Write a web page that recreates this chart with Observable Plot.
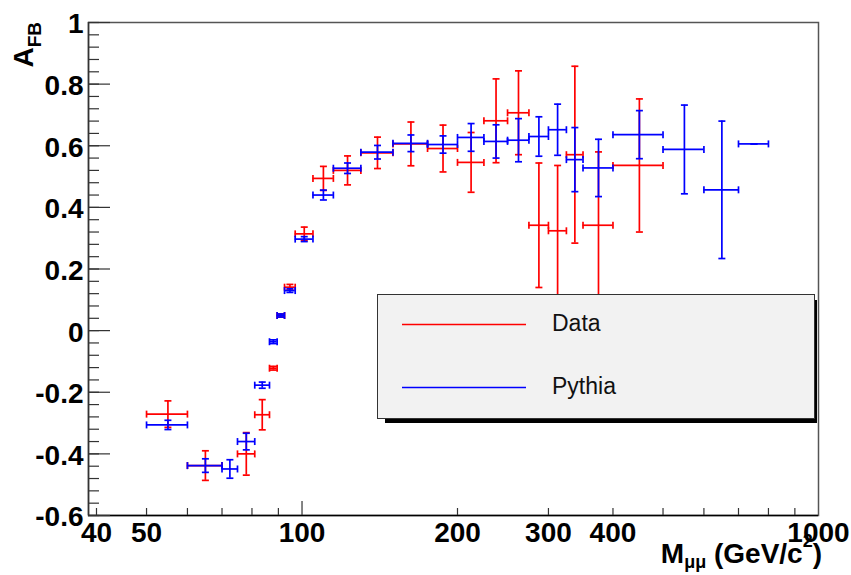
<!DOCTYPE html>
<html><head><meta charset="utf-8">
<script src="https://cdn.jsdelivr.net/npm/d3@7"></script>
<script src="https://cdn.jsdelivr.net/npm/@observablehq/plot@0.6"></script>
<style>body{margin:0;background:#fff}#chart{width:851px;height:575px}</style>
</head><body><div id="chart"></div>
<script>
// Mass bins (GeV/c^2)
const binLo = [50,60,70,75,81,86.5,89.5,92.5,97,105,115,130,150,175,200,225,250,275,300,325,350,400,500,600,700];
const binHi = [60,70,75,81,86.5,89.5,92.5,97,105,115,130,150,175,200,225,250,275,300,325,350,400,500,600,700,800];
const mass  = [55,65,72.5,78,83.75,88,91,94.75,101,110,122.5,140,162.5,187.5,212.5,237.5,262.5,287.5,312.5,337.5,375,450,550,650,750];
// Data A_FB and errors
const dataAfb = [-0.271,-0.438,null,-0.400,-0.273,-0.122,0.049,0.141,0.314,0.494,0.520,0.577,0.606,0.591,0.546,0.681,0.707,0.342,0.324,0.571,0.342,0.536,null,null,null];
const dataErr = [0.043,0.048,null,0.069,0.049,0.006,0.005,0.009,0.022,0.039,0.047,0.051,0.071,0.076,0.097,0.136,0.136,0.202,0.212,0.287,0.238,0.216,null,null,null];
// Pythia A_FB and errors
const pythiaAfb = [-0.306,-0.438,-0.449,-0.360,-0.177,-0.036,0.049,0.130,0.297,0.440,0.527,0.579,0.608,0.604,0.627,0.614,0.618,0.630,0.652,0.555,0.528,0.636,0.588,0.457,0.606];
const pythiaErr = [0.015,0.022,0.030,0.027,0.010,0.006,0.005,0.006,0.008,0.016,0.017,0.022,0.027,0.028,0.045,0.054,0.070,0.064,0.083,0.104,0.093,0.078,0.144,0.223,0.0];
// Tick labels
const xTicks = [40,50,100,200,300,400,1000];
const xMinorTicks = [40,50,60,70,80,90,200,300,400,500,600,700,800,900];
const xMajorTicks = [100];
const yTicks = [-0.6,-0.4,-0.2,0,0.2,0.4,0.6,0.8,1];
const seriesNames = ["Data","Pythia"];
const seriesColors = ["#ff0000","#0000ff"];

const W = 851, H = 575, mL = 88, mR = 33, mT = 22, mB = 60;
const frameW = W - mL - mR, frameH = H - mT - mB;
const yMinorTicks = d3.range(-60, 101, 4).map(v => v / 100);

const hCap = {draw(ctx, size){const r = Math.sqrt(size/Math.PI); ctx.moveTo(-r,0); ctx.lineTo(r,0);}};
const vCap = {draw(ctx, size){const r = Math.sqrt(size/Math.PI); ctx.moveTo(0,-r); ctx.lineTo(0,r);}};

function seriesMarks(vals, errs, color) {
  const rows = mass.map((m,i)=>({m, lo:binLo[i], hi:binHi[i], v:vals[i], e:errs[i]})).filter(r => r.v != null);
  const sw = 1.7;
  return [
    Plot.ruleY(rows, {y:"v", x1:"lo", x2:"hi", stroke:color, strokeWidth:sw}),
    Plot.ruleX(rows, {x:"m", y1:r=>r.v-r.e, y2:r=>r.v+r.e, stroke:color, strokeWidth:sw}),
    Plot.dot(rows, {x:"lo", y:"v", symbol:vCap, r:3.5, stroke:color, fill:"none", strokeWidth:sw}),
    Plot.dot(rows, {x:"hi", y:"v", symbol:vCap, r:3.5, stroke:color, fill:"none", strokeWidth:sw}),
    Plot.dot(rows, {x:"m", y:r=>r.v-r.e, symbol:hCap, r:3.5, stroke:color, fill:"none", strokeWidth:sw}),
    Plot.dot(rows, {x:"m", y:r=>r.v+r.e, symbol:hCap, r:3.5, stroke:color, fill:"none", strokeWidth:sw})
  ];
}

const fmtY = d => String(d);
const plot = Plot.plot({
  width: W, height: H,
  marginLeft: mL, marginRight: mR, marginTop: mT, marginBottom: mB,
  style: {fontFamily: "'Liberation Sans', Arial, Helvetica, sans-serif", color: "#000", background: "#fff", overflow: "visible"},
  x: {type: "log", domain: [38.6, 1000]},
  y: {domain: [-0.6, 1]},
  marks: [
    ...seriesMarks(dataAfb, dataErr, seriesColors[0]),
    ...seriesMarks(pythiaAfb, pythiaErr, seriesColors[1]),
    Plot.frame({stroke: "#555", strokeWidth: 1.5}),
    Plot.ruleY([-0.6], {stroke: "#000", strokeWidth: 1.5}),
    Plot.ruleX([38.6], {stroke: "#333", strokeWidth: 1.5}),
    Plot.tickY(yMinorTicks, {y: d => d, insetRight: frameW - 11, stroke: "#333", strokeWidth: 1.2}),
    Plot.tickY(yTicks, {y: d => d, insetRight: frameW - 22, stroke: "#333", strokeWidth: 1.2}),
    Plot.tickX(xMinorTicks, {x: d => d, insetTop: frameH - 7, stroke: "#333", strokeWidth: 1.2}),
    Plot.tickX(xMajorTicks, {x: d => d, insetTop: frameH - 14, stroke: "#333", strokeWidth: 1.2}),
    Plot.axisX(xTicks, {anchor: "bottom", tickSize: 0, tickPadding: 7, fontSize: 28, fontWeight: "bold", tickFormat: d => String(d), label: null}),
    Plot.axisY(yTicks, {anchor: "left", tickSize: 0, tickPadding: 5, fontSize: 28, fontWeight: "bold", tickFormat: fmtY, label: null, dy: 2})
  ]
});
document.getElementById("chart").appendChild(plot);

const svg = d3.select(plot);
const ff = "'Liberation Sans', Arial, Helvetica, sans-serif";
// Y title
const yt = svg.append("text").attr("transform", "translate(33,22) rotate(-90)")
  .attr("text-anchor", "end").attr("font-family", ff).attr("font-weight", "bold").attr("fill", "#000");
yt.append("tspan").attr("font-size", 28).text("A");
yt.append("tspan").attr("font-size", 19).attr("dy", 8).text("FB");
// X title
const xt = svg.append("text").attr("x", 822).attr("y", 563)
  .attr("text-anchor", "end").attr("font-family", ff).attr("font-weight", "bold").attr("fill", "#000");
xt.append("tspan").attr("font-size", 28).text("M");
xt.append("tspan").attr("font-size", 18).attr("dy", 5).text("μμ");
xt.append("tspan").attr("font-size", 28).attr("dy", -5).text(" (GeV/c");
xt.append("tspan").attr("font-size", 18).attr("dy", -16).text("2");
xt.append("tspan").attr("font-size", 28).attr("dy", 16).text(")");
// Legend
const lg = svg.append("g");
lg.append("rect").attr("x", 385).attr("y", 300).attr("width", 432).attr("height", 123).attr("fill", "#000");
lg.append("rect").attr("x", 377.5).attr("y", 294.5).attr("width", 437).attr("height", 124)
  .attr("fill", "#f2f2f2").attr("stroke", "#333").attr("stroke-width", 1);
seriesNames.forEach((name, i) => {
  const y = 324.5 + i * 63;
  lg.append("line").attr("x1", 402).attr("x2", 526).attr("y1", y).attr("y2", y)
    .attr("stroke", seriesColors[i]).attr("stroke-width", 1.5);
  lg.append("text").attr("x", 552).attr("y", y + 6.5).attr("text-anchor", "start")
    .attr("font-family", ff).attr("font-size", 23).attr("fill", "#111").text(name);
});
</script></body></html>
